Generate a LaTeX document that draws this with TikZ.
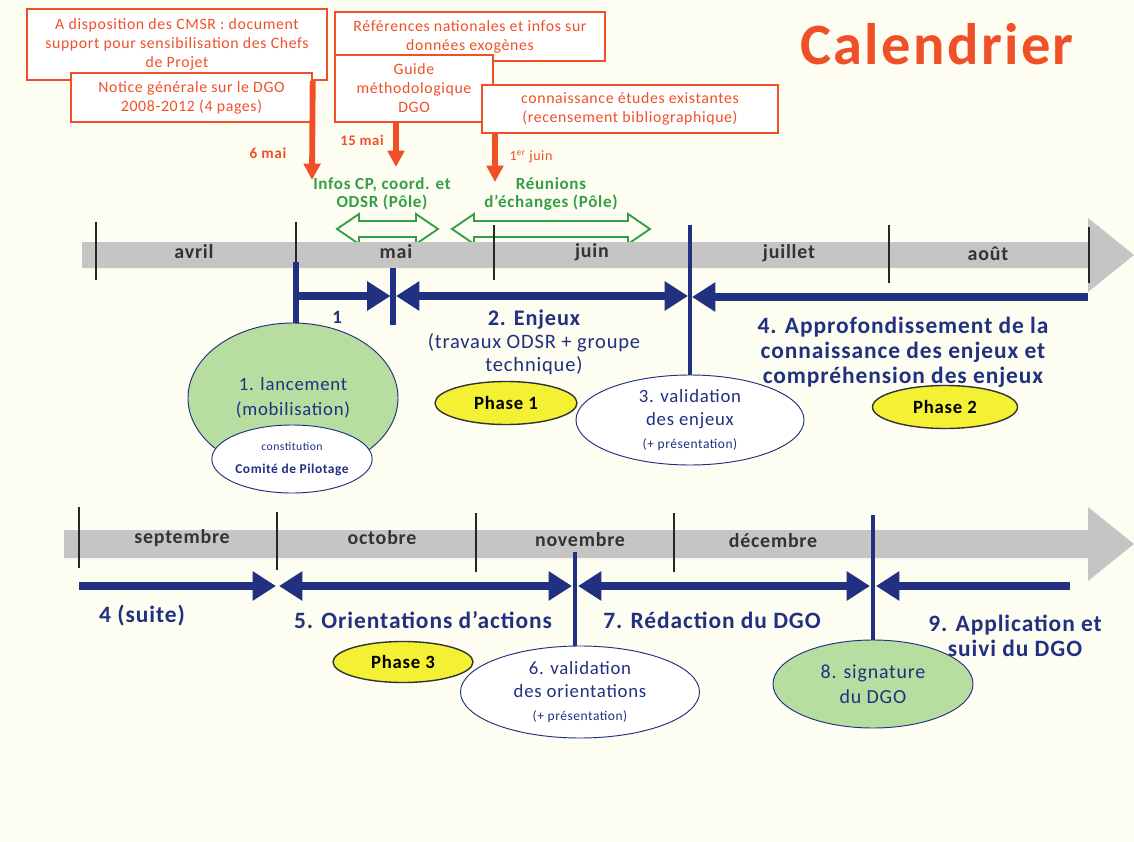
\documentclass[tikz,border=0pt]{standalone}
\usepackage{fontspec}
\setmainfont{Carlito}[LetterSpace=4]
\usepackage{xcolor}
\usetikzlibrary{shapes.geometric, arrows.meta, positioning}

\definecolor{fond}{RGB}{253,253,241}
\definecolor{rouge}{RGB}{240,80,40}
\definecolor{vert}{RGB}{52,158,72}
\definecolor{marine}{RGB}{33,48,128}
\definecolor{gris}{RGB}{197,197,197}
\definecolor{vertclair}{RGB}{183,221,160}
\definecolor{jaune}{RGB}{244,241,52}
\newcommand{\taille}[2]{\fontsize{#1}{#2}\selectfont}

\begin{document}
\begin{tikzpicture}[
  x=0.03cm, y=-0.03cm,
  note/.style={rectangle, draw=rouge, fill=white, line width=1.2pt, text=rouge, align=center, inner sep=0pt, font=\taille{13.5}{16.2}},
  date/.style={text=rouge, font=\bfseries\taille{13}{15}},
  pole/.style={text=vert, align=center, font=\bfseries\taille{14.5}{15.5}},
  mois/.style={text=black!80, font=\bfseries\taille{17}{19}},
  etape/.style={text=marine, align=center, font=\bfseries\taille{20}{21.5}},
  bulle/.style={ellipse, draw=marine, line width=0.8pt, fill=white, text=marine, align=center, inner sep=0pt, font=\taille{16}{19.5}},
  phase/.style={ellipse, draw=black!80, line width=1.2pt, fill=jaune, inner sep=0pt, font=\bfseries\taille{16}{18}},
  redarrow/.style={draw=rouge, line width=5pt, -{Triangle[length=14pt, width=14pt]}},
  bluearrow/.style={draw=marine, line width=7.5pt, -{Triangle[length=20pt, width=24pt]}},
  bothways/.style={bluearrow, {Triangle[length=20pt, width=24pt]}-{Triangle[length=20pt, width=24pt]}},
  stem/.style={draw=marine, line width=4pt},
  trait/.style={draw=black!85, line width=1.5pt},
  duo/.style={draw=vert, line width=1.6pt, line join=miter},
  frise/.style={fill=gris}
]
\useasboundingbox (0,0) rectangle (1134,842);
\fill[fond] (0,0) rectangle (1134,842);

% Title
\node[text=rouge, anchor=base, font=\bfseries\taille{50}{50}] (titre) at (937,65) {Calendrier};

% Documents (top boxes)
\node (cmsr) [note, minimum width=9cm, minimum height=2.13cm] at (177,44.5) {A disposition des CMSR : document\\support pour sensibilisation des Chefs\\de Projet};
\node (notice) [note, minimum width=7.23cm, minimum height=1.47cm] at (191.5,97.5) {Notice générale sur le DGO\\2008-2012 (4 pages)};
\node (refs) [note, minimum width=8.1cm, minimum height=1.47cm] at (470,36.5) {Références nationales et infos sur\\données exogènes};
\node (guide) [note, minimum width=4.74cm, minimum height=2.01cm] at (414,88.5) {Guide\\méthodologique\\DGO};
\node (biblio) [note, minimum width=8.88cm, minimum height=1.44cm] at (630,109) {connaissance études existantes\\(recensement bibliographique)};

% Dates
\coordinate (fin6) at (312,180);
\coordinate (fin15) at (396,167);
\coordinate (fin1) at (495,182);
\draw [redarrow] (notice.east |- cmsr.south) -- (fin6);
\draw [redarrow] (guide.south -| fin15) -- (fin15);
\draw [redarrow] (biblio.south -| fin1) -- (fin1);
\node (d6) [date] at (268,153) {6 mai};
\node (d15) [date, font=\bfseries\taille{12.5}{14}] at (362,140) {15 mai};
\node (d1) [date, font=\taille{12}{14}] at (531,157) {1\textsuperscript{er}~juin};

% Meetings
\node (infos) [pole] at (382,194) {Infos CP, coord. et\\ODSR (Pôle)};
\node (reunions) [pole] at (551,194) {Réunions\\d'échanges (Pôle)};
\draw [duo] (337,229) -- ++(22,-15) -- ++(0,7) -- (416,221) -- ++(0,-7) -- (438,229) -- ++(-22,15) -- ++(0,-7) -- (359,237) -- ++(0,7) -- cycle;
\draw [duo] (452,229) -- ++(22,-15) -- ++(0,7) -- (628,221) -- ++(0,-7) -- (650,229) -- ++(-22,15) -- ++(0,-7) -- (474,237) -- ++(0,7) -- cycle;

% First timeline
\fill [frise] (82,242) -- (1088,242) -- (1088,218) -- (1134,255) -- (1088,292) -- (1088,268) -- (82,268) -- cycle;
\draw [trait] (96,222) -- (96,280);
\draw [trait] (296,222) -- (296,265);
\draw [trait] (494,225) -- (494,280);
\draw [trait] (889,225) -- (889,283);
\draw [trait] (1089,227) -- (1089,283);
\node (avril) [mois] at (194,252) {avril};
\node (mai) [mois] at (396,252) {mai};
\node (juin) [mois] at (592,252) {juin};
\node (juillet) [mois] at (789,253) {juillet};
\node (aout) [mois] at (988,254) {août};

% Phase 1 and 2
\node (lance) [bulle, fill=vertclair, minimum width=6.3cm, minimum height=4.5cm, font=\taille{16}{21}] at (293,398) {1. lancement\\(mobilisation)};
\node (comite) [bulle, minimum width=4.53cm, minimum height=2.04cm] at (292,459) {{\taille{10}{12}constitution}\\{\bfseries\taille{11.5}{13}Comité de Pilotage}};
\node (valid) [bulle, minimum width=6.84cm, minimum height=2.7cm] at (690,420) {3. validation\\des enjeux\\{\taille{11.5}{12}(+ présentation)}};
\node (phase1) [phase, minimum width=4.26cm, minimum height=1.29cm] at (506,403) {Phase 1};
\node (phase2) [phase, minimum width=4.35cm, minimum height=1.29cm] at (945,407) {Phase 2};

\coordinate (s1) at (296,262);
\coordinate (s2) at (393,268);
\coordinate (s3) at (690,225);
\draw [stem, line width=5pt] (s1) -- (s1 |- lance.north);
\draw [stem, line width=5pt] (s2) -- (393,325);
\draw [stem] (s3) -- (valid.north);
\draw [bluearrow] (296,296) -- (390.5,296);
\draw [bothways] (396,296) -- (688,296);
\draw [bluearrow] (1088,297) -- (692,297);

\node (un) [etape, font=\bfseries\taille{16}{18}] at (337,317) {1};
\node (enjeux) [etape, font=\taille{17.5}{19.5}] at (534,342) {{\bfseries\taille{19}{20}2. Enjeux}\\(travaux ODSR + groupe\\technique)};
\node (approf) [etape] at (903,352) {4. Approfondissement de la\\connaissance des enjeux et\\compréhension des enjeux};

% Second timeline
\fill [frise] (64,530) -- (1088,530) -- (1088,507) -- (1134,544) -- (1088,581) -- (1088,558) -- (64,558) -- cycle;
\draw [trait] (79,507) -- (79,568);
\draw [trait] (277,512) -- (277,570);
\draw [trait] (476,513) -- (476,572);
\draw [trait] (674,513) -- (674,572);
\node (sept) [mois] at (182,538) {septembre};
\node (oct) [mois] at (382,538) {octobre};
\node (nov) [mois] at (580,540) {novembre};
\node (dec) [mois] at (773,541) {décembre};

% Phase 3
\node (phase3) [phase, minimum width=4.2cm, minimum height=1.23cm] at (403,662) {Phase 3};
\node (orient) [bulle, minimum width=7.17cm, minimum height=2.76cm] at (580,692) {6. validation\\des orientations\\{\taille{11.5}{12}(+ présentation)}};
\node (signe) [bulle, fill=vertclair, minimum width=6cm, minimum height=2.64cm, font=\taille{17}{21}] at (873,684) {8. signature\\du DGO};

\coordinate (s6) at (575,552);
\coordinate (s8) at (873,515);
\draw [stem] (s6) -- (s6 |- orient.north);
\draw [stem] (s8) -- (signe.north);
\draw [bluearrow] (79,586) -- (276,586);
\draw [bothways] (279,586) -- (572,586);
\draw [bothways] (578,586) -- (870,586);
\draw [bluearrow] (1070,586) -- (876,586);

\node (suite) [etape] at (142,616) {4 (suite)};
\node (orientations) [etape] at (423,620) {5. Orientations d’actions};
\node (redaction) [etape] at (712,620) {7. Rédaction du DGO};
\node (application) [etape] at (1015,636) {9. Application et\\suivi du DGO};

\end{tikzpicture}
\end{document}
